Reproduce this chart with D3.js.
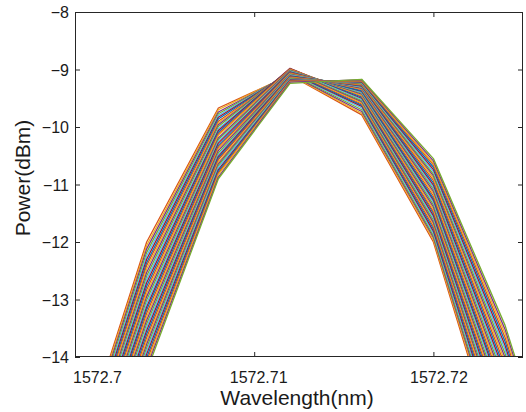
<!DOCTYPE html>
<html>
<head>
<meta charset="utf-8">
<script src="https://cdn.jsdelivr.net/npm/d3@7"></script>
<style>
  body { margin: 0; background: #fff; }
  svg text { font-family: "Liberation Sans", Arial, Helvetica, sans-serif; }
</style>
</head>
<body>
<div id="chart"></div>
<script>
// ---- spectra: one array per sampled wavelength, one entry per trace ----
const wavelengths = [1572.700, 1572.704, 1572.708, 1572.712, 1572.716, 1572.720, 1572.724, 1572.728];

const p700 = [-15.90,-15.95,-16.00,-16.05,-16.10,-16.15,-16.20,-16.25,-16.30,-16.35,
              -16.40,-16.45,-16.50,-16.55,-16.60,-16.65,-16.70,-16.75,-16.80,-16.85,
              -16.90,-16.95,-17.00,-17.05,-17.10,-17.15,-17.20,-17.25,-17.30,-17.35,
              -17.40,-17.45,-17.50,-17.55,-17.60,-17.65,-17.70,-17.75,-17.80];
const p704 = [-12.00,-12.06,-12.12,-12.18,-12.24,-12.30,-12.36,-12.41,-12.47,-12.53,
              -12.59,-12.65,-12.71,-12.77,-12.83,-12.89,-12.95,-13.01,-13.07,-13.13,
              -13.18,-13.24,-13.30,-13.36,-13.42,-13.48,-13.54,-13.60,-13.66,-13.72,
              -13.78,-13.84,-13.89,-13.95,-14.01,-14.07,-14.13,-14.19,-14.25];
const p708 = [-9.67,-9.70,-9.74,-9.77,-9.80,-9.83,-9.86,-9.90,-9.93,-9.96,
              -9.99,-10.03,-10.06,-10.09,-10.12,-10.15,-10.19,-10.22,-10.25,-10.28,
              -10.32,-10.35,-10.38,-10.41,-10.45,-10.48,-10.51,-10.54,-10.57,-10.61,
              -10.64,-10.67,-10.70,-10.74,-10.77,-10.80,-10.83,-10.87,-10.90];
const p712 = [-9.10,-9.09,-9.08,-9.07,-9.06,-9.05,-9.04,-9.03,-9.02,-9.01,
              -9.00,-8.99,-8.98,-8.99,-8.99,-9.00,-9.01,-9.02,-9.03,-9.04,
              -9.05,-9.06,-9.07,-9.08,-9.09,-9.10,-9.11,-9.12,-9.13,-9.14,
              -9.15,-9.16,-9.17,-9.18,-9.19,-9.20,-9.21,-9.22,-9.24];
const p716 = [-9.79,-9.76,-9.73,-9.70,-9.67,-9.64,-9.62,-9.60,-9.58,-9.56,
              -9.54,-9.52,-9.50,-9.48,-9.46,-9.45,-9.43,-9.41,-9.40,-9.38,
              -9.37,-9.35,-9.34,-9.33,-9.31,-9.30,-9.29,-9.28,-9.27,-9.26,
              -9.25,-9.24,-9.23,-9.22,-9.21,-9.20,-9.19,-9.18,-9.17];
const p720 = [-12.00,-11.96,-11.92,-11.89,-11.85,-11.81,-11.77,-11.73,-11.69,-11.66,
              -11.62,-11.58,-11.54,-11.50,-11.47,-11.43,-11.39,-11.35,-11.31,-11.27,
              -11.24,-11.20,-11.16,-11.12,-11.08,-11.05,-11.01,-10.97,-10.93,-10.89,
              -10.85,-10.82,-10.78,-10.74,-10.70,-10.66,-10.63,-10.59,-10.55];
const p724 = [-16.10,-16.03,-15.96,-15.89,-15.82,-15.75,-15.68,-15.61,-15.54,-15.47,
              -15.40,-15.33,-15.26,-15.19,-15.12,-15.05,-14.98,-14.91,-14.84,-14.77,
              -14.71,-14.64,-14.57,-14.50,-14.43,-14.36,-14.29,-14.22,-14.15,-14.08,
              -14.01,-13.94,-13.87,-13.80,-13.73,-13.66,-13.59,-13.52,-13.45];
const p728 = [-20.00,-19.93,-19.86,-19.79,-19.72,-19.65,-19.58,-19.51,-19.44,-19.37,
              -19.30,-19.23,-19.16,-19.09,-19.02,-18.95,-18.88,-18.81,-18.74,-18.67,
              -18.60,-18.53,-18.46,-18.39,-18.32,-18.25,-18.18,-18.11,-18.04,-17.97,
              -17.90,-17.83,-17.76,-17.69,-17.62,-17.55,-17.48,-17.44,-17.40];

const xTicks = [1572.7, 1572.71, 1572.72];
const xTickLabels = ["1572.7", "1572.71", "1572.72"];
const yTicks = [-14, -13, -12, -11, -10, -9, -8];

// MATLAB default colour order
const colorOrder = ["#0072BD", "#D95319", "#EDB120", "#7E2F8E", "#77AC30", "#4DBEEE", "#A2142F"];

const width = 526, height = 412;
const margin = {top: 12, right: 3, bottom: 55, left: 75};
const axisColor = "#262626";

const columns = [p700, p704, p708, p712, p716, p720, p724, p728];
const series = p700.map((_, i) => wavelengths.map((w, j) => ({w: w, p: columns[j][i]})));

const svg = d3.select("#chart").append("svg")
    .attr("width", width)
    .attr("height", height);

const x = d3.scaleLinear()
    .domain([1572.7, 1572.725])
    .range([margin.left, width - margin.right]);

const y = d3.scaleLinear()
    .domain([-14, -8])
    .range([height - margin.bottom, margin.top]);

svg.append("clipPath").attr("id", "plotClip")
  .append("rect")
    .attr("x", margin.left).attr("y", margin.top)
    .attr("width", x.range()[1] - margin.left)
    .attr("height", y.range()[0] - margin.top);

const line = d3.line().x(d => x(d.w)).y(d => y(d.p));

svg.append("g")
    .attr("clip-path", "url(#plotClip)")
  .selectAll("path")
  .data(series)
  .join("path")
    .attr("d", line)
    .attr("fill", "none")
    .attr("stroke", (d, i) => colorOrder[(i + 1) % colorOrder.length])
    .attr("stroke-width", 1.3)
    .attr("stroke-linejoin", "round");

// ---- axes (MATLAB style box with inward ticks) ----
function styleAxis(g) {
    g.select(".domain").remove();
    g.selectAll(".tick line").attr("stroke", axisColor);
    g.selectAll(".tick text").attr("fill", "#1a1a1a").style("font-size", "16px");
}

const xLabelShift = [22, 4, 5];
svg.append("g")
    .attr("transform", `translate(0,${y.range()[0]})`)
    .call(d3.axisBottom(x).tickValues(xTicks).tickFormat((d, i) => xTickLabels[i])
        .tickSizeInner(-5).tickSizeOuter(0))
    .call(styleAxis)
    .call(g => g.selectAll(".tick text")
        .attr("y", 26).attr("dy", null)
        .attr("dx", (d, i) => xLabelShift[i]));

svg.append("g")
    .attr("transform", `translate(0,${margin.top})`)
    .call(d3.axisTop(x).tickValues(xTicks).tickFormat("").tickSizeInner(-5).tickSizeOuter(0))
    .call(styleAxis);

svg.append("g")
    .attr("transform", `translate(${margin.left},0)`)
    .call(d3.axisLeft(y).tickValues(yTicks).tickFormat(d3.format("d"))
        .tickSizeInner(-5).tickSizeOuter(0))
    .call(styleAxis)
    .call(g => g.selectAll(".tick text").attr("x", -6).attr("dy", "0.36em"));

svg.append("g")
    .attr("transform", `translate(${x.range()[1]},0)`)
    .call(d3.axisRight(y).tickValues(yTicks).tickFormat("").tickSizeInner(-5).tickSizeOuter(0))
    .call(styleAxis);

svg.append("rect")
    .attr("x", margin.left + 0.5).attr("y", margin.top + 0.5)
    .attr("width", x.range()[1] - margin.left - 1)
    .attr("height", y.range()[0] - margin.top - 1)
    .attr("fill", "none")
    .attr("stroke", axisColor)
    .attr("stroke-width", 1);

// axis titles
svg.append("text")
    .attr("x", 297)
    .attr("y", 405)
    .attr("text-anchor", "middle")
    .attr("fill", "#1a1a1a")
    .style("font-size", "21px")
    .text("Wavelength(nm)");

svg.append("text")
    .attr("transform", "rotate(-90)")
    .attr("x", -178)
    .attr("y", 30)
    .attr("text-anchor", "middle")
    .attr("fill", "#1a1a1a")
    .style("font-size", "21px")
    .text("Power(dBm)");
</script>
</body>
</html>
